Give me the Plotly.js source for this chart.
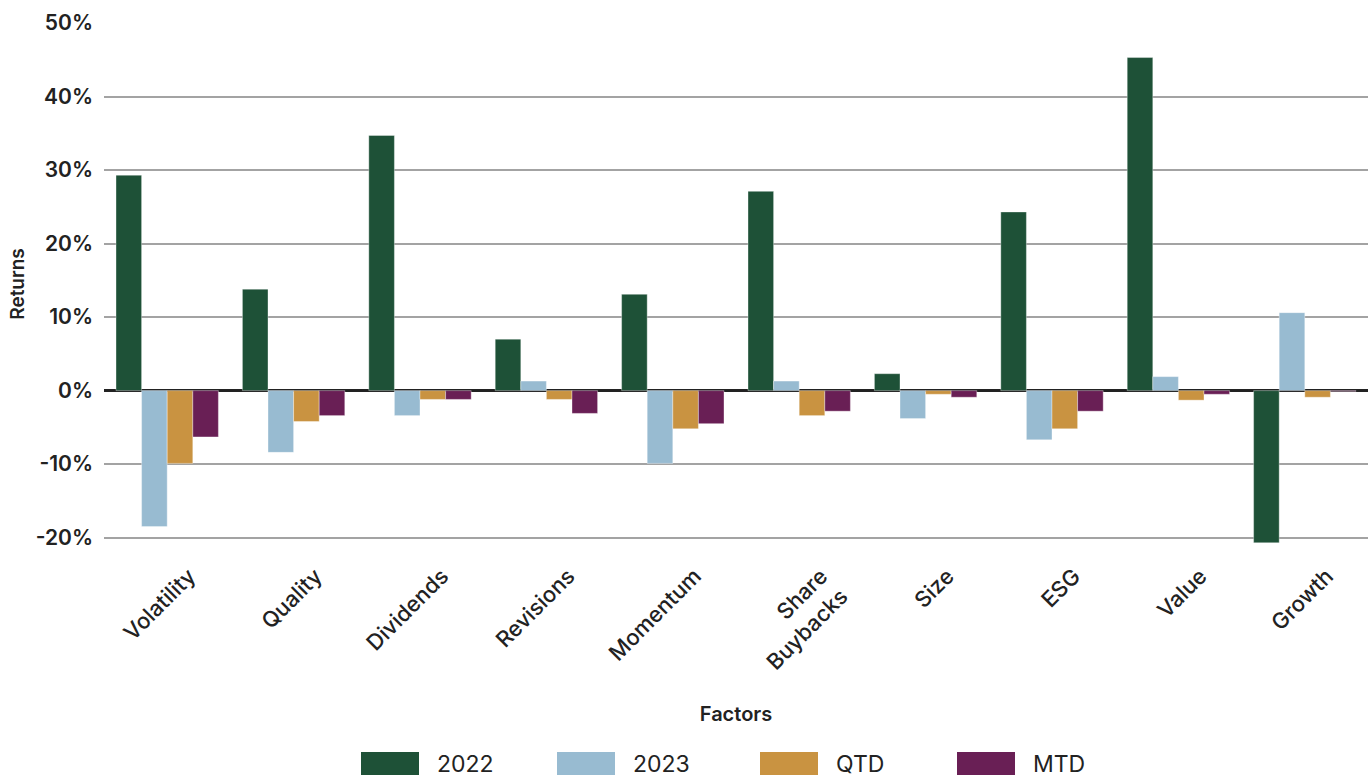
<!DOCTYPE html>
<html><head><meta charset="utf-8">
<script src="https://cdn.plot.ly/plotly-3.0.1.min.js"></script>
<style>body{margin:0;background:#fff}#chart{width:1368px;height:778px}</style>
</head><body><div id="chart"></div>
<script>
const categories = ["Volatility","Quality","Dividends","Revisions","Momentum","Share<br>Buybacks","Size","ESG","Value","Growth"];
const seriesNames = ["2022","2023","QTD","MTD"];
const v2022 = [29.3, 13.8, 34.7, 7.0, 13.1, 27.1, 2.3, 24.3, 45.3, -20.7];
const v2023 = [-18.5, -8.4, -3.4, 1.3, -9.9, 1.3, -3.8, -6.7, 1.9, 10.6];
const vQTD  = [-9.9, -4.2, -1.2, -1.2, -5.2, -3.4, -0.5, -5.2, -1.3, -0.9];
const vMTD  = [-6.3, -3.4, -1.2, -3.1, -4.5, -2.8, -0.9, -2.8, -0.5, -0.1];
const colors = ["#1E5137","#98BBD1","#C99341","#691F55"];
const yTicks = [-20,-10,0,10,20,30,40,50];

const series = [v2022, v2023, vQTD, vMTD];
const traces = series.map((vals, i) => ({
  type: "bar",
  name: seriesNames[i],
  x: categories,
  y: vals.map(v => v / 100),
  marker: {color: colors[i], line: {color: "rgba(255,255,255,0.6)", width: 0.6}},
  showlegend: false,
  hoverinfo: "x+y+name"
}));

// custom legend (large swatches)
const legX = [361, 557, 760, 957];
const shapes = [];
const annotations = [];
seriesNames.forEach((n, i) => {
  shapes.push({type: "rect", xref: "paper", yref: "paper",
    x0: (legX[i] - 104) / 1264, x1: (legX[i] + 58 - 104) / 1264,
    y0: -(775 - 545) / 522, y1: -(752 - 545) / 522,
    fillcolor: colors[i], line: {width: 0}});
  annotations.push({xref: "paper", yref: "paper", x: (legX[i] + 74 - 104) / 1264,
    y: -(764 - 545) / 522, xanchor: "left", yanchor: "middle", showarrow: false,
    text: n, font: {family: "Inter, sans-serif", size: 23, color: "#222"}});
});

const layout = {
  width: 1368, height: 778,
  margin: {l: 104, r: 0, t: 23, b: 233},
  paper_bgcolor: "#fff", plot_bgcolor: "#fff",
  barmode: "group", bargap: 0.19, bargroupgap: 0,
  font: {family: "Inter, sans-serif", color: "#222"},
  xaxis: {
    tickangle: -45,
    tickfont: {size: 22, weight: 500, color: "#222"},
    ticklabelshift: 22, ticklabelstandoff: 13,
    title: {text: "Factors", font: {size: 20, weight: 600, color: "#222"}, standoff: 33},
    showgrid: false, zeroline: false, showline: false, ticks: ""
  },
  yaxis: {
    range: [-0.21, 0.50],
    tickvals: yTicks.map(t => t / 100),
    ticktext: yTicks.map(t => t + "%"),
    tickfont: {size: 21, weight: 600, color: "#222"},
    ticklabelstandoff: 10,
    showgrid: true, gridcolor: "#A3A3A3", gridwidth: 2,
    zeroline: true, zerolinecolor: "#222", zerolinewidth: 3,
    ticks: "", ticklen: 0,
    title: {text: "Returns", font: {size: 19, weight: 600, color: "#222"}, standoff: 6}
  },
  shapes: shapes,
  annotations: annotations,
  showlegend: false
};

Plotly.newPlot("chart", traces, layout, {displayModeBar: false, staticPlot: true});
</script></body></html>
